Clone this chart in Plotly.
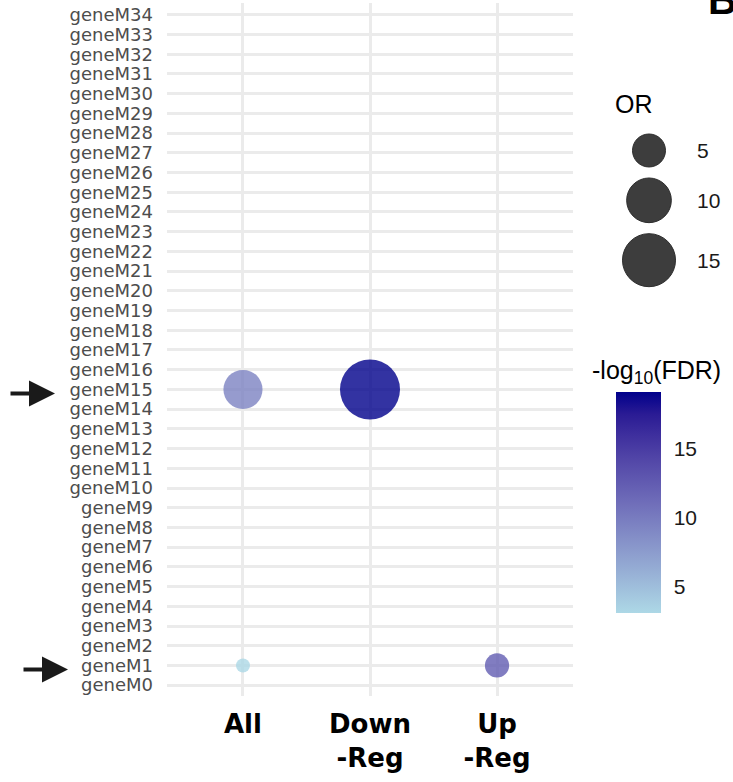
import plotly.graph_objects as go
import numpy as np

# ---------------- data ----------------
modules = [f"geneM{i}" for i in range(35)]
groups = ["All", "Down-Reg", "Up-Reg"]
group_labels = ["All", "Down<br>-Reg", "Up<br>-Reg"]

pt_group = ["All", "Down-Reg", "All", "Up-Reg"]
pt_module = ["geneM15", "geneM15", "geneM1", "geneM1"]
pt_OR = [7.3, 20.1, 1.9, 2.8]
pt_logFDR = [9.5, 19.1, 3.13, 12.5]

or_breaks = [5, 10, 15]
fdr_breaks = [5, 10, 15]
arrow_modules = ["geneM15", "geneM1"]

# ---------------- scales ----------------
W, H = 733, 782
D_MIN, D_MAX = 14, 60
or_lo, or_hi = min(pt_OR), max(pt_OR)
c_lo, c_hi = min(pt_logFDR), max(pt_logFDR)


def size_of(v):
    t = (v - or_lo) / (or_hi - or_lo)
    return D_MIN + (D_MAX - D_MIN) * np.sqrt(max(t, 0))


def srgb_to_lab(h):
    rgb = np.array([int(h[i:i + 2], 16) for i in (1, 3, 5)]) / 255
    lin = np.where(rgb <= 0.04045, rgb / 12.92, ((rgb + 0.055) / 1.055) ** 2.4)
    M = np.array([[0.4124, 0.3576, 0.1805], [0.2126, 0.7152, 0.0722], [0.0193, 0.1192, 0.9505]])
    xyz = M @ lin / np.array([0.95047, 1.0, 1.08883])
    f = np.where(xyz > 0.008856, np.cbrt(xyz), 7.787 * xyz + 16 / 116)
    return np.array([116 * f[1] - 16, 500 * (f[0] - f[1]), 200 * (f[1] - f[2])])


def lab_to_hex(lab):
    L, a, b = lab
    fy_ = (L + 16) / 116
    f = np.array([fy_ + a / 500, fy_, fy_ - b / 200])
    xyz = np.where(f ** 3 > 0.008856, f ** 3, (f - 16 / 116) / 7.787) * np.array([0.95047, 1.0, 1.08883])
    Mi = np.array([[3.2406, -1.5372, -0.4986], [-0.9689, 1.8758, 0.0415], [0.0557, -0.2040, 1.0570]])
    lin = Mi @ xyz
    rgb = np.where(lin <= 0.0031308, 12.92 * lin, 1.055 * np.clip(lin, 0, None) ** (1 / 2.4) - 0.055)
    rgb = np.clip(rgb, 0, 1) * 255
    return "#%02x%02x%02x" % tuple(int(round(v)) for v in rgb)


lab_lo, lab_hi = srgb_to_lab("#ADD8E6"), srgb_to_lab("#00008B")
colorscale = [[t, lab_to_hex(lab_lo + (lab_hi - lab_lo) * t)] for t in np.linspace(0, 1, 11)]

# ---------------- layout frame ----------------
px_l, px_r = 167, 573
px_t, px_b = 3, 696
cb_l, cb_w, cb_top, cb_len = 616, 45, 392, 221


def fx(px):
    return px / W


def fy(py):
    return 1 - py / H


fig = go.Figure()

fig.add_trace(go.Scatter(
    x=pt_group, y=pt_module, mode="markers",
    marker=dict(size=[size_of(v) for v in pt_OR], color=pt_logFDR,
                colorscale=colorscale, cmin=c_lo, cmax=c_hi, opacity=0.8,
                line=dict(width=0),
                colorbar=dict(x=fx(cb_l), xanchor="left", y=fy(cb_top + cb_len / 2), yanchor="middle",
                              xpad=0, ypad=0,
                              thickness=cb_w, thicknessmode="pixels",
                              len=cb_len, lenmode="pixels", outlinewidth=0,
                              tickvals=fdr_breaks, ticks="outside", tickcolor="rgba(0,0,0,0)",
                              ticklen=9, tickwidth=1,
                              tickfont=dict(family="Liberation Sans, Arial", size=21, color="#1a1a1a"))),
    showlegend=False, hoverinfo="skip"))

# size legend (OR), drawn on a pixel-frame axis
sizes = [size_of(v) for v in or_breaks]
centers = []
cur = 134
for d in sizes:
    cur_c = cur + d / 2
    centers.append(cur_c)
    cur = cur_c + d / 2 + 11
fig.add_trace(go.Scatter(
    x=[649] * len(or_breaks), y=centers, mode="markers",
    marker=dict(size=sizes, color="#333333", opacity=0.95, line=dict(width=1, color="#222222")),
    xaxis="x2", yaxis="y2", showlegend=False, hoverinfo="skip"))

# white tick marks inside the colour bar (both edges), placed from the colour scale
shapes = []
for v in fdr_breaks:
    yy = cb_top + cb_len * (1 - (v - c_lo) / (c_hi - c_lo))
    for x0, x1 in [(cb_l, cb_l + 8), (cb_l + cb_w - 8, cb_l + cb_w)]:
        shapes.append(dict(type="line", xref="paper", yref="paper", x0=fx(x0), x1=fx(x1),
                           y0=fy(yy), y1=fy(yy), line=dict(color="white", width=1.5), layer="above"))

fig.update_layout(
    width=W, height=H,
    margin=dict(l=0, r=0, t=0, b=0),
    paper_bgcolor="white", plot_bgcolor="white",
    shapes=shapes,
    xaxis=dict(domain=[fx(px_l), fx(px_r)], type="category", categoryorder="array",
               categoryarray=groups, range=[-0.598, 2.598],
               tickvals=groups, ticktext=group_labels,
               showgrid=True, gridcolor="#EBEBEB", gridwidth=2.5, zeroline=False,
               showline=False, ticks="", ticklabelstandoff=10,
               tickfont=dict(family="DejaVu Sans", size=26, color="black", weight="bold")),
    yaxis=dict(domain=[fy(px_b), fy(px_t)], type="category", categoryorder="array",
               categoryarray=modules, range=[-0.55, 34.6],
               tickvals=modules, ticktext=modules,
               showgrid=True, gridcolor="#EBEBEB", gridwidth=2.5, zeroline=False,
               showline=False, ticks="", ticklabelstandoff=13,
               tickfont=dict(family="DejaVu Sans", size=18, color="#4D4D4D")),
    xaxis2=dict(domain=[0.8, 1.0], range=[0.8 * W, W], visible=False, fixedrange=True),
    yaxis2=dict(domain=[0, 1], range=[H, 0], visible=False, fixedrange=True, anchor="x2"),
)

ann = []
# OR legend title and labels
ann.append(dict(text="OR", xref="paper", yref="paper", x=fx(613), y=fy(104), xanchor="left",
                yanchor="middle", showarrow=False,
                font=dict(family="Liberation Sans, Arial", size=25, color="black")))
for v, c in zip(or_breaks, centers):
    ann.append(dict(text=str(v), xref="paper", yref="paper", x=fx(695), y=fy(c), xanchor="left",
                    yanchor="middle", showarrow=False,
                    font=dict(family="Liberation Sans, Arial", size=21, color="#1a1a1a")))
# colorbar title
ann.append(dict(text="-log<sub>10</sub>(FDR)", xref="paper", yref="paper", x=fx(590), y=fy(372),
                xanchor="left", yanchor="middle", showarrow=False,
                font=dict(family="Liberation Sans, Arial", size=25, color="black")))
# panel letter
ann.append(dict(text="<b>B</b>", xref="paper", yref="paper", x=fx(706), y=fy(24), xanchor="left",
                yanchor="bottom", showarrow=False,
                font=dict(family="Liberation Sans, Arial", size=40, color="black")))
# arrows
for m, tip in zip(arrow_modules, [55, 68]):
    ann.append(dict(text="", x=fx(tip), xref="paper", y=m, yref="y", yshift=-4,
                    ax=-46, ay=0, axref="pixel", ayref="pixel", showarrow=True,
                    arrowhead=2, arrowsize=1.3, arrowwidth=4, arrowcolor="#1a1a1a", standoff=0))
fig.update_layout(annotations=ann)

fig.write_html("out.html", post_script="document.body.style.margin='0';",
               config={"displayModeBar": False})
